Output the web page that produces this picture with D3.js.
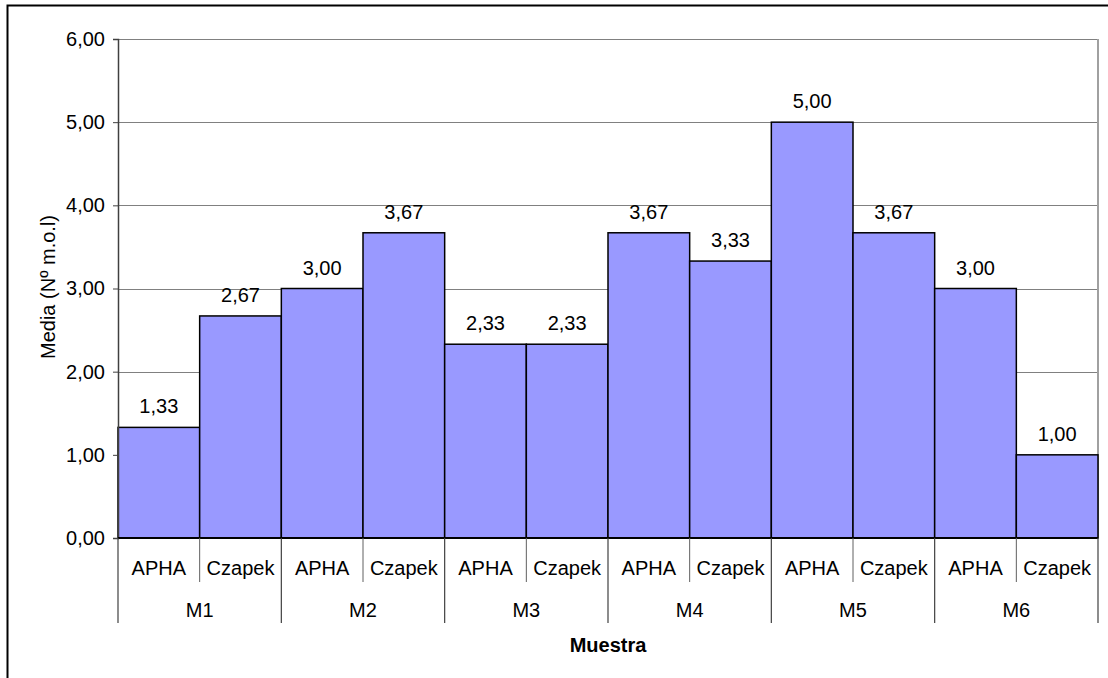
<!DOCTYPE html>
<html>
<head>
<meta charset="utf-8">
<script src="https://cdn.jsdelivr.net/npm/d3@7"></script>
<style>
  html, body { margin: 0; padding: 0; background: #fff; }
  svg { display: block; font-family: Arial, "Liberation Sans", sans-serif; }
</style>
</head>
<body>
<svg id="chart" width="1108" height="678"></svg>
<script>
// Sample groups and culture media
const muestras = ["M1", "M2", "M3", "M4", "M5", "M6"];
const medios = ["APHA", "Czapek"];
// Mean count per sample / medium (same order as muestras)
const valoresAPHA = [1.33, 3.00, 2.33, 3.67, 5.00, 3.00];
const valoresCzapek = [2.67, 3.67, 2.33, 3.33, 3.67, 1.00];
const yTicks = [0, 1, 2, 3, 4, 5, 6];

const fmt = v => d3.format(".2f")(v).replace(".", ",");

const data = [];
muestras.forEach((m, i) => {
  data.push({ grupo: m, medio: medios[0], key: m + "-" + medios[0], valor: valoresAPHA[i] });
  data.push({ grupo: m, medio: medios[1], key: m + "-" + medios[1], valor: valoresCzapek[i] });
});

const svg = d3.select("#chart");
const plotLeft = 118, plotRight = 1098, plotTop = 39, plotBottom = 538;

// Outer chart frame
svg.append("rect")
  .attr("x", 7.5).attr("y", 5.5)
  .attr("width", 1120).attr("height", 700)
  .attr("fill", "none").attr("stroke", "#000").attr("stroke-width", 2);

const x = d3.scaleBand().domain(data.map(d => d.key)).range([plotLeft, plotRight]).padding(0);
const xGroup = d3.scaleBand().domain(muestras).range([plotLeft, plotRight]).padding(0);
const y = d3.scaleLinear().domain([0, 6]).range([plotBottom, plotTop]);

// Horizontal gridlines
svg.append("g")
  .selectAll("line")
  .data(yTicks.filter(t => t > 0))
  .join("line")
  .attr("x1", plotLeft).attr("x2", plotRight)
  .attr("y1", d => Math.round(y(d)) + 0.5).attr("y2", d => Math.round(y(d)) + 0.5)
  .attr("stroke", "#808080").attr("stroke-width", 1);

// Plot area right border
svg.append("line")
  .attr("x1", plotRight).attr("x2", plotRight)
  .attr("y1", plotTop).attr("y2", plotBottom)
  .attr("stroke", "#a0a0a0").attr("stroke-width", 2);

// Bars
svg.append("g")
  .selectAll("rect")
  .data(data)
  .join("rect")
  .attr("x", d => x(d.key))
  .attr("y", d => y(d.valor))
  .attr("width", x.bandwidth())
  .attr("height", d => y(0) - y(d.valor))
  .attr("fill", "#9999FF")
  .attr("stroke", "#000")
  .attr("stroke-width", 1.5);

// Value labels
svg.append("g")
  .selectAll("text")
  .data(data)
  .join("text")
  .attr("x", d => x(d.key) + x.bandwidth() / 2)
  .attr("y", d => y(d.valor) - 14)
  .attr("text-anchor", "middle")
  .attr("font-size", 20)
  .attr("fill", "#000")
  .text(d => fmt(d.valor));

// Y axis
const yAxis = d3.axisLeft(y).tickValues(yTicks).tickSize(5).tickPadding(8).tickFormat(fmt);
const gy = svg.append("g").attr("transform", `translate(${plotLeft},0)`).call(yAxis);
gy.select(".domain").attr("stroke", "#404040").attr("stroke-width", 1.5);
gy.selectAll(".tick line").attr("stroke", "#404040");
gy.selectAll(".tick text").attr("font-size", 20).attr("font-family", "Arial, 'Liberation Sans', sans-serif").attr("fill", "#000");

// Zero baseline
svg.append("line")
  .attr("x1", plotLeft).attr("x2", plotRight)
  .attr("y1", y(0)).attr("y2", y(0))
  .attr("stroke", "#000").attr("stroke-width", 2);

// Category axis: medium separators (short) and sample separators (long)
const cat = svg.append("g");
const boundaries = d3.range(data.length + 1).map(i => plotLeft + i * x.bandwidth());
cat.selectAll("line.sub")
  .data(boundaries.filter((b, i) => i % 2 === 1))
  .join("line")
  .attr("class", "sub")
  .attr("x1", d => d).attr("x2", d => d)
  .attr("y1", plotBottom).attr("y2", 582)
  .attr("stroke", "#606060").attr("stroke-width", 1);
cat.selectAll("line.grp")
  .data(boundaries.filter((b, i) => i % 2 === 0))
  .join("line")
  .attr("class", "grp")
  .attr("x1", d => d).attr("x2", d => d)
  .attr("y1", plotBottom).attr("y2", 623)
  .attr("stroke", "#404040").attr("stroke-width", 1.2);

cat.selectAll("text.medio")
  .data(data)
  .join("text")
  .attr("class", "medio")
  .attr("x", d => x(d.key) + x.bandwidth() / 2)
  .attr("y", 575)
  .attr("text-anchor", "middle")
  .attr("font-size", 20)
  .text(d => d.medio);

cat.selectAll("text.grupo")
  .data(muestras)
  .join("text")
  .attr("class", "grupo")
  .attr("x", d => xGroup(d) + xGroup.bandwidth() / 2)
  .attr("y", 617)
  .attr("text-anchor", "middle")
  .attr("font-size", 20)
  .text(d => d);

// Axis titles
svg.append("text")
  .attr("x", (plotLeft + plotRight) / 2)
  .attr("y", 652)
  .attr("text-anchor", "middle")
  .attr("font-size", 20)
  .attr("font-weight", "bold")
  .text("Muestra");

svg.append("text")
  .attr("transform", "translate(55,287) rotate(-90)")
  .attr("text-anchor", "middle")
  .attr("font-size", 20)
  .text("Media (Nº m.o.l)");
</script>
</body>
</html>
